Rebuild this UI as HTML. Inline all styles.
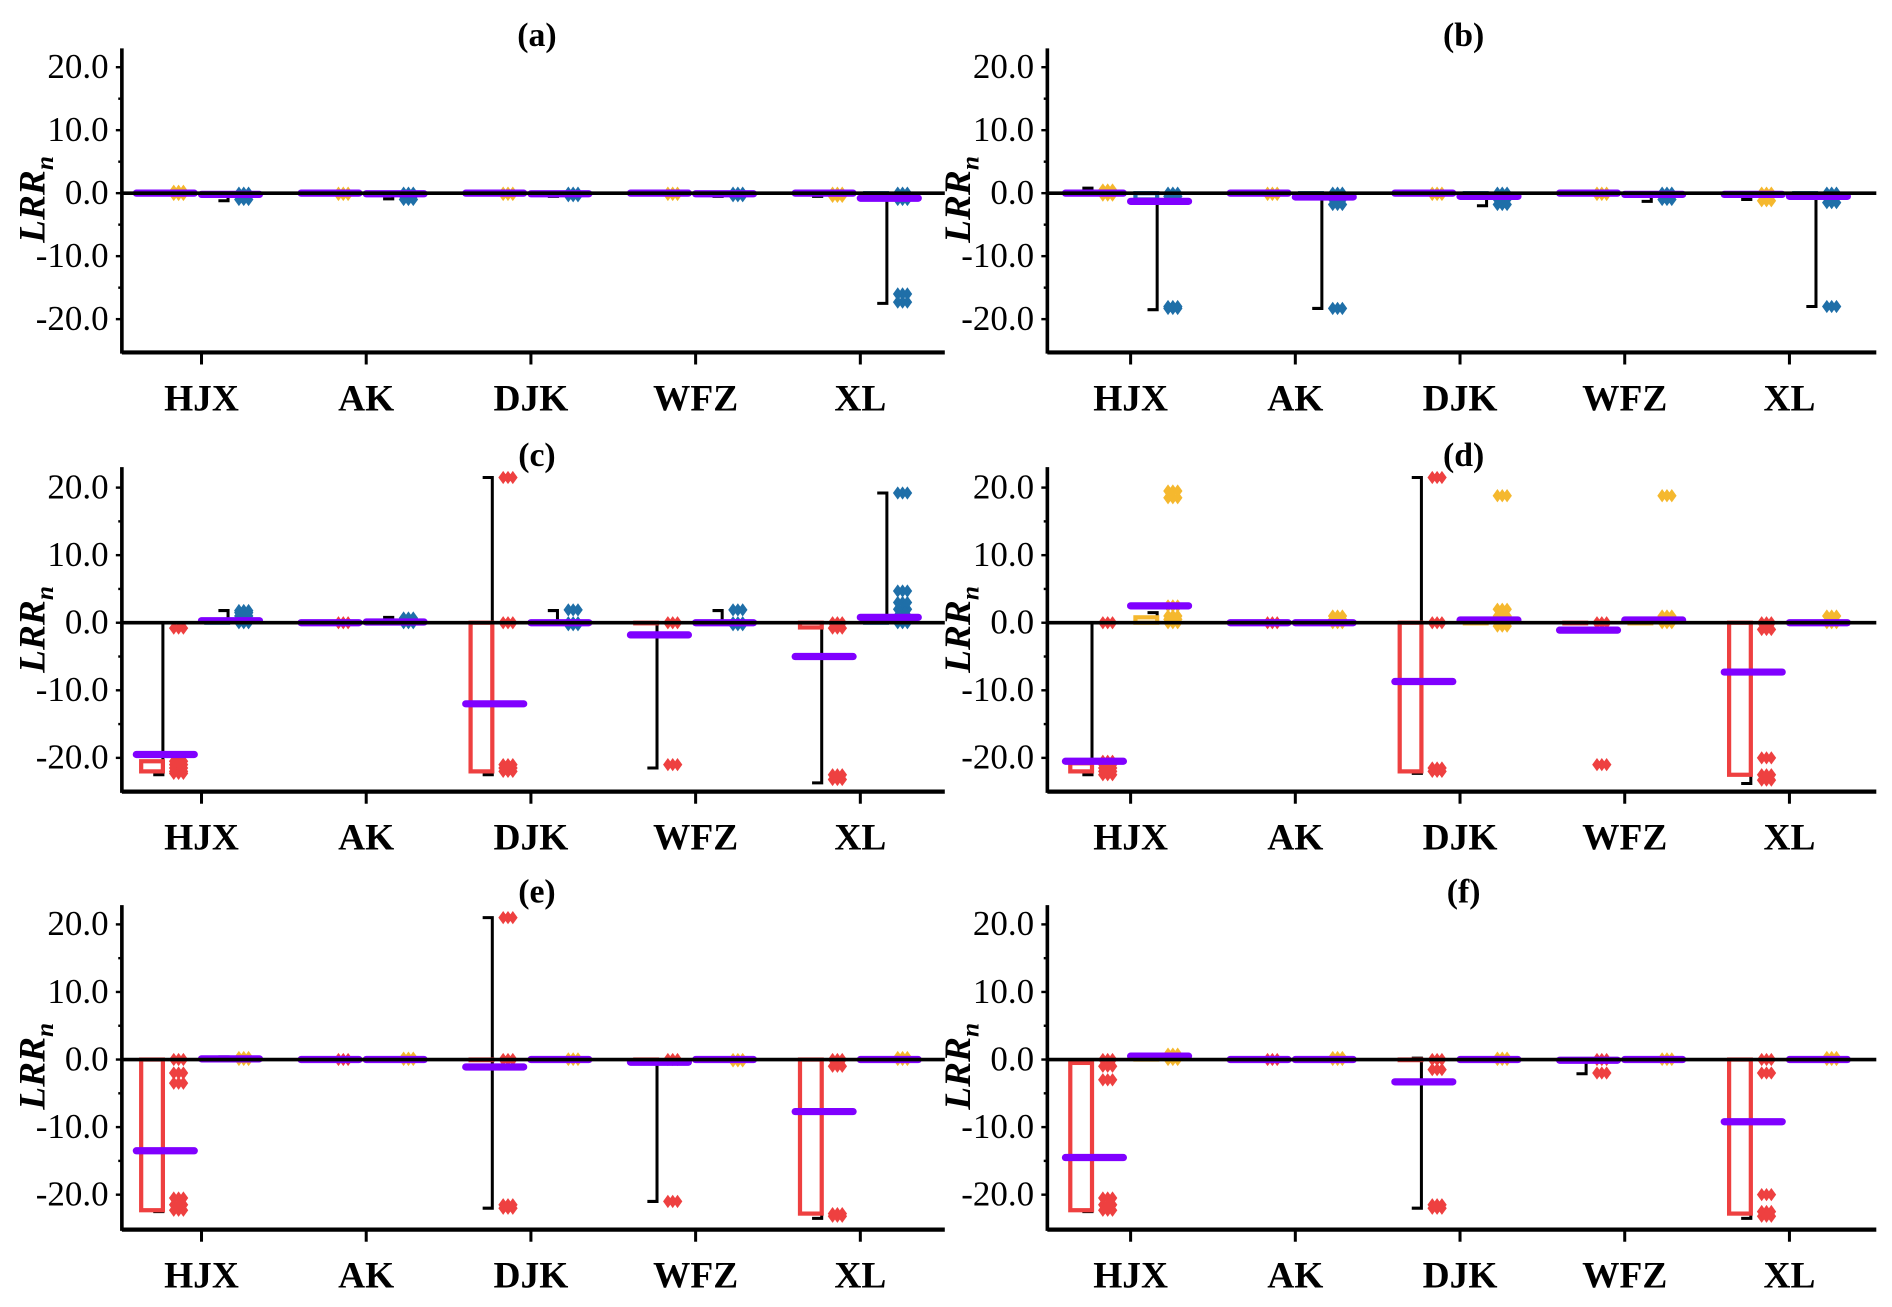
<!DOCTYPE html>
<html><head><meta charset="utf-8"><style>
html,body{margin:0;padding:0;background:#fff;}
svg{display:block;}
text{font-family:"Liberation Serif",serif;}
</style></head><body>
<svg id="fig" width="1892" height="1307" viewBox="0 0 1568 1083" xmlns="http://www.w3.org/2000/svg"></svg>
<script>
const categories = ["HJX","AK","DJK","WFZ","XL"];
const yTicks = [20,10,0,-10,-20];
const yTickLabels = ["20.0","10.0","0.0","-10.0","-20.0"];
const panelTitles = ["(a)","(b)","(c)","(d)","(e)","(f)"];

// panel a
const a_g1_mean=[0,0,0,0,0], a_g1_q1=[0,0,0,0,0], a_g1_q3=[0,0,0,0,0], a_g1_lo=[0,0,0,0,-0.5], a_g1_hi=[0.3,0,0,0,0];
const a_g1_pts=[[0.3,0,-0.2],[0,-0.2],[0,-0.2],[0,-0.2],[0,-0.5]];
const a_g2_mean=[-0.2,-0.1,-0.1,-0.1,-0.8], a_g2_q1=[0,0,0,0,-0.8], a_g2_q3=[0,0,0,0,0], a_g2_lo=[-1.2,-0.9,-0.5,-0.5,-17.5], a_g2_hi=[0,0,0,0,0];
const a_g2_pts=[[0,-0.5,-1,-0.3],[0,-0.5,-1],[0,-0.4],[0,-0.4],[0,-0.5,-1,-16,-17.3]];
// panel b
const b_g1_mean=[0,0,0,0,-0.2], b_g1_q1=[0,0,0,0,0], b_g1_q3=[0,0,0,0,0], b_g1_lo=[0,0,0,0,-1], b_g1_hi=[0.8,0,0,0,0];
const b_g1_pts=[[0,0.5,-0.3],[0,-0.2],[0,-0.2],[0,-0.2],[0,-1.2]];
const b_g2_mean=[-1.3,-0.6,-0.5,-0.2,-0.5], b_g2_q1=[-1,0,0,0,0], b_g2_q3=[0,0,0,0,0], b_g2_lo=[-18.5,-18.3,-2,-1.3,-18], b_g2_hi=[0,0,0,0,0];
const b_g2_pts=[[0,-0.5,-18,-18.3],[0,-1,-1.8,-18.3],[0,-1,-1.8],[0,-1],[0,-1.5,-18]];
// panel c
const c_g1_mean=[-19.5,0,-12,-1.8,-5], c_g1_q1=[-22,0,-22,0,-0.7], c_g1_q3=[-20.5,0,0,0,0], c_g1_lo=[-22.5,0,-22.5,-21.5,-23.7], c_g1_hi=[0,0,21.5,0,0];
const c_g1_pts=[[-0.8,-20.5,-21,-21.5,-22,-22.3],[0],[0,21.5,-21,-21.5,-22],[0,-21],[0,-0.8,-22.5,-23.2]];
const c_g2_mean=[0.3,0.1,0,0,0.8], c_g2_q1=[0,0,0,0,0], c_g2_q3=[0.3,0,0,0,0.7], c_g2_lo=[0,0,0,0,0], c_g2_hi=[1.8,0.8,1.8,1.8,19.2];
const c_g2_pts=[[0,0.5,1,1.5,1.8,0.2],[0,0.3,0.7],[0,1.9,-0.3],[0,1.9,-0.3],[0,1,2,3,4.7,19.2]];
// panel d
const d_g1_mean=[-20.5,0,-8.7,-1.1,-7.3], d_g1_q1=[-22,0,-22,0,-22.5], d_g1_q3=[-20.8,0,0,0,0], d_g1_lo=[-22.5,0,-22.3,0,-23.8], d_g1_hi=[0,0,21.5,0,0];
const d_g1_pts=[[0,-20.5,-21,-21.5,-22,-22.5],[0],[0,21.5,-21.5,-22],[0,-21],[0,-1,-20,-22.5,-23.3]];
const d_g2_mean=[2.5,0,0.4,0.4,0], d_g2_q1=[0,0,0,0,0], d_g2_q3=[0.8,0,0,0,0], d_g2_lo=[0,0,0,0,0], d_g2_hi=[1.5,0,0,0,0];
const d_g2_pts=[[0,0.5,1,2.5,18.5,19.5],[0,0.5,1],[0,1,2,18.8,-0.5],[0,1,18.8],[0,1]];
// panel e
const e_g1_mean=[-13.5,0,-1.1,-0.4,-7.7], e_g1_q1=[-22.3,0,0,0,-22.8], e_g1_q3=[0,0,0,0,0], e_g1_lo=[-22.5,0,-22,-21,-23.5], e_g1_hi=[0,0,21,0,0];
const e_g1_pts=[[0,-2,-3.5,-20.5,-21.5,-22.3],[0],[0,21,-21.5,-22],[0,-21],[0,-1,-22.8,-23.2]];
const e_g2_mean=[0.1,0,0,0,0], e_g2_q1=[0,0,0,0,0], e_g2_q3=[0,0,0,0,0], e_g2_lo=[0,0,0,0,0], e_g2_hi=[0.4,0,0,0,0];
const e_g2_pts=[[0,0.3],[0,0.2],[0,0.1],[0,-0.2],[0,0.3]];
// panel f
const f_g1_mean=[-14.5,0,-3.3,-0.1,-9.2], f_g1_q1=[-22.3,0,0,0,-22.8], f_g1_q3=[-0.5,0,0,0,0], f_g1_lo=[-22.5,0,-22,-2.1,-23.5], f_g1_hi=[0,0,0.2,0,0];
const f_g1_pts=[[0,-1,-3,-20.5,-21.5,-22.3],[0],[0,-1.5,-21.5,-22],[0,-2],[0,-2,-20,-22.5,-23.2]];
const f_g2_mean=[0.5,0,0,0,0], f_g2_q1=[0,0,0,0,0], f_g2_q3=[0.6,0,0,0,0], f_g2_lo=[0,0,0,0,0], f_g2_hi=[0.8,0,0,0,0];
const f_g2_pts=[[0,0.5,0.8],[0,0.3],[0,0.2],[0,0.1],[0,0.3]];

const panels=[
 {g1:[a_g1_mean,a_g1_q1,a_g1_q3,a_g1_lo,a_g1_hi,a_g1_pts],g2:[a_g2_mean,a_g2_q1,a_g2_q3,a_g2_lo,a_g2_hi,a_g2_pts],c1:"#f5b82e",c2:"#1f6fa8"},
 {g1:[b_g1_mean,b_g1_q1,b_g1_q3,b_g1_lo,b_g1_hi,b_g1_pts],g2:[b_g2_mean,b_g2_q1,b_g2_q3,b_g2_lo,b_g2_hi,b_g2_pts],c1:"#f5b82e",c2:"#1f6fa8"},
 {g1:[c_g1_mean,c_g1_q1,c_g1_q3,c_g1_lo,c_g1_hi,c_g1_pts],g2:[c_g2_mean,c_g2_q1,c_g2_q3,c_g2_lo,c_g2_hi,c_g2_pts],c1:"#ee4040",c2:"#1f6fa8"},
 {g1:[d_g1_mean,d_g1_q1,d_g1_q3,d_g1_lo,d_g1_hi,d_g1_pts],g2:[d_g2_mean,d_g2_q1,d_g2_q3,d_g2_lo,d_g2_hi,d_g2_pts],c1:"#ee4040",c2:"#f5b82e"},
 {g1:[e_g1_mean,e_g1_q1,e_g1_q3,e_g1_lo,e_g1_hi,e_g1_pts],g2:[e_g2_mean,e_g2_q1,e_g2_q3,e_g2_lo,e_g2_hi,e_g2_pts],c1:"#ee4040",c2:"#f5b82e"},
 {g1:[f_g1_mean,f_g1_q1,f_g1_q3,f_g1_lo,f_g1_hi,f_g1_pts],g2:[f_g2_mean,f_g2_q1,f_g2_q3,f_g2_lo,f_g2_hi,f_g2_pts],c1:"#ee4040",c2:"#f5b82e"}
];

const NS="http://www.w3.org/2000/svg";
const svg=document.getElementById("fig");
function mk(tag,attrs,parent){const e=document.createElementNS(NS,tag);for(const k in attrs)e.setAttribute(k,attrs[k]);(parent||svg).appendChild(e);return e;}

const rows=[{y0:160,k:5.22,top:40,bot:292,title:28},{y0:516,k:5.6,top:387,bot:656,title:376},{y0:878,k:5.6,top:750,bot:1019,title:738}];
const cols=[{ax:101,end:783,cx:167,tx:445},{ax:868,end:1555,cx:937,tx:1213}];

panels.forEach((p,pi)=>{
  const r=rows[Math.floor(pi/2)], c=cols[pi%2];
  const y=v=>r.y0-v*r.k;
  const xc=i=>c.cx+i*136.5;
  const g=mk("g",{});
  
  
  const t=mk("text",{x:c.tx,y:r.title+10,"text-anchor":"middle","font-size":28,"font-weight":"bold"},g);
  t.textContent=panelTitles[pi];
  
  
  const ya=mk("line",{x1:c.ax,y1:r.top,x2:c.ax,y2:r.bot+1,stroke:"#000","stroke-width":3},g);
  
  
  yTicks.forEach((v,i)=>{
    mk("line",{x1:c.ax-5,y1:y(v),x2:c.ax,y2:y(v),stroke:"#000","stroke-width":2},g);
    const tl=mk("text",{x:c.ax-11,y:y(v)+9,"text-anchor":"end","font-size":29},g);
    tl.textContent=yTickLabels[i];
    
    
  });
  [15,5,-5,-15].forEach(v=>mk("line",{x1:c.ax-3,y1:y(v),x2:c.ax,y2:y(v),stroke:"#000","stroke-width":2},g));
  const yl=mk("text",{transform:`translate(${c.ax-64},${y(-1)}) rotate(-90)`,"text-anchor":"middle","font-size":31,"font-weight":"bold","font-style":"italic"},g);
  yl.innerHTML='LRR<tspan font-size="21" dy="7">n</tspan>';
  
  
  const xa=mk("line",{x1:c.ax,y1:r.bot,x2:c.end,y2:r.bot,stroke:"#000","stroke-width":3.5},g);
  
  
  categories.forEach((cat,i)=>{
    mk("line",{x1:xc(i),y1:r.bot,x2:xc(i),y2:r.bot+10,stroke:"#000","stroke-width":2.5},g);
    const xl=mk("text",{x:xc(i),y:r.bot+48,"text-anchor":"middle","font-size":31,"font-weight":"bold"},g);
    xl.textContent=cat;
    
    
  });
  [[p.g1,p.c1,-50],[p.g2,p.c2,4]].forEach(([d,col,off],gi)=>{
    const [mean,q1,q3,lo,hi,pts]=d;
    categories.forEach((cat,i)=>{
      const bx=xc(i)+off, bw=18, wx=bx+bw;
      const bg=mk("g",{},g);
      
      
      mk("polyline",{points:`${wx-8},${y(hi[i])} ${wx},${y(hi[i])} ${wx},${y(lo[i])} ${wx-8},${y(lo[i])}`,fill:"none",stroke:"#000","stroke-width":2.5},bg);
      const top=Math.min(y(q3[i]),y(q1[i])), h=Math.abs(y(q1[i])-y(q3[i]));
      mk("rect",{x:bx,y:top,width:bw,height:Math.max(h,0.5),fill:"#fff",stroke:col,"stroke-width":3.5},bg);
      pts[i].forEach((v,j)=>{
        const py=y(v);
        [-4,0,4].forEach(dx=>{
          const px=wx+13+dx;
          mk("path",{d:`M${px},${py-5.5} L${px+4},${py} L${px},${py+5.5} L${px-4},${py} Z`,fill:col},bg);
        });
      });
      mk("line",{x1:bx-4,y1:y(mean[i]),x2:bx+44,y2:y(mean[i]),stroke:"#8000ff","stroke-width":6,"stroke-linecap":"round"},bg);
    });
  });
  mk("line",{x1:c.ax,y1:y(0),x2:c.end,y2:y(0),stroke:"#000","stroke-width":3},g);
});
</script>
</body></html>
